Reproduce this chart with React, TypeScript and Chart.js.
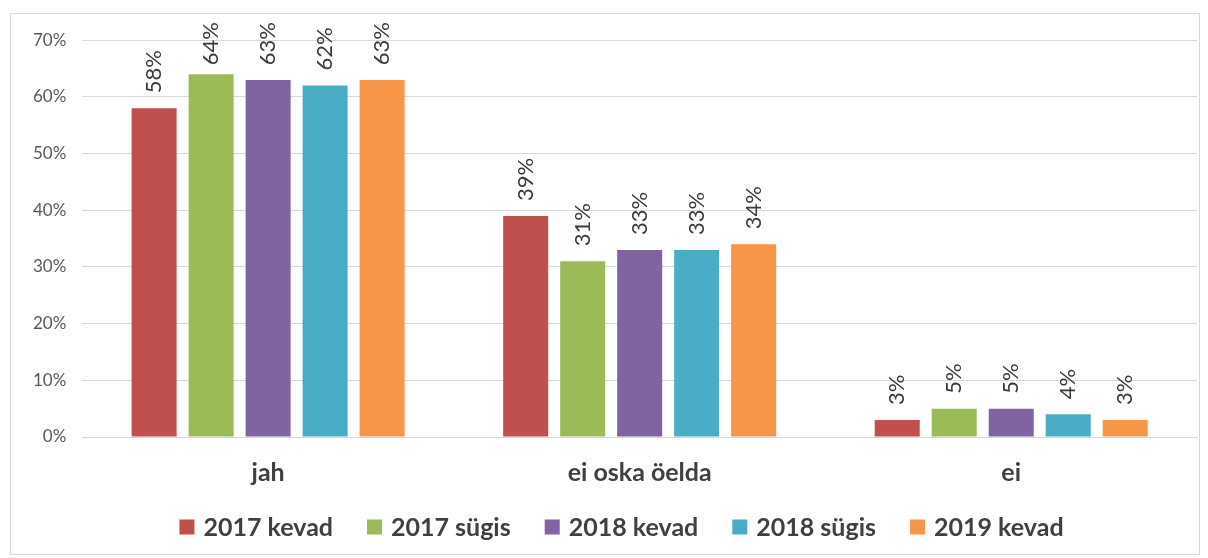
import React, { useEffect, useRef } from "react";
import { Chart, registerables } from "chart.js";

Chart.register(...registerables);

const categories = ["jah", "ei oska öelda", "ei"];
const seriesNames = ["2017 kevad", "2017 sügis", "2018 kevad", "2018 sügis", "2019 kevad"];
const s2017kevad = [58, 39, 3];
const s2017sugis = [64, 31, 5];
const s2018kevad = [63, 33, 5];
const s2018sugis = [62, 33, 4];
const s2019kevad = [63, 34, 3];
const seriesValues = [s2017kevad, s2017sugis, s2018kevad, s2018sugis, s2019kevad];
const colors = ["#C0504D", "#9BBB59", "#8064A2", "#4BACC6", "#F79646"];
const yTicks = [0, 10, 20, 30, 40, 50, 60, 70];

const FONT = "Lato, 'Liberation Sans', sans-serif";

const labelPlugin = {
  id: "rotLabels",
  afterDatasetsDraw(chart: any) {
    const ctx = chart.ctx;
    ctx.save();
    ctx.font = `22px ${FONT}`;
    chart.data.datasets.forEach((ds: any, i: number) => {
      const meta = chart.getDatasetMeta(i);
      meta.data.forEach((el: any, j: number) => {
        const txt = ds.data[j] + "%";
        const w = ctx.measureText(txt).width;
        let start = el.y - 15;
        const minTop = 8;
        if (start - w < minTop) start = minTop + w;
        ctx.save();
        ctx.translate(el.x, start);
        ctx.rotate(-Math.PI / 2);
        ctx.fillStyle = "#3A3A3A";
        ctx.textAlign = "left";
        ctx.textBaseline = "middle";
        ctx.fillText(txt, 0, 0);
        ctx.restore();
      });
    });
    ctx.restore();
  },
};

const legendPlugin = {
  id: "customLegend",
  afterDraw(chart: any) {
    const ctx = chart.ctx;
    const box = 15;
    const boxGap = 9;
    const itemGap = 34;
    const centerX = 610.5;
    const centerY = 513;
    ctx.save();
    ctx.font = `bold 25px ${FONT}`;
    const items = chart.data.datasets.map((ds: any) => ({
      label: ds.label,
      color: ds.backgroundColor,
      w: ctx.measureText(ds.label).width,
    }));
    const total =
      items.reduce((s: number, it: any) => s + box + boxGap + it.w, 0) +
      itemGap * (items.length - 1);
    let x = centerX - total / 2;
    ctx.textBaseline = "middle";
    ctx.textAlign = "left";
    items.forEach((it: any) => {
      ctx.fillStyle = it.color;
      ctx.fillRect(x, centerY - box / 2, box, box);
      x += box + boxGap;
      ctx.fillStyle = "#404040";
      ctx.fillText(it.label, x, centerY + 1);
      x += it.w + itemGap;
    });
    ctx.restore();
  },
};

export default function App() {
  const ref = useRef<HTMLCanvasElement>(null);
  useEffect(() => {
    if (!ref.current) return;
    const chart = new Chart(ref.current, {
      type: "bar",
      data: {
        labels: categories,
        datasets: seriesNames.map((n, i) => ({
          label: n,
          data: seriesValues[i],
          backgroundColor: colors[i],
          borderWidth: 0,
          barPercentage: 0.79,
          categoryPercentage: 0.767,
        })),
      },
      options: {
        animation: false,
        responsive: false,
        maintainAspectRatio: false,
        layout: { padding: { left: 6, right: 2, top: 12, bottom: 45 } },
        plugins: {
          legend: { display: false },
          tooltip: { enabled: false },
        },
        scales: {
          x: {
            grid: { display: false, drawTicks: false },
            border: { display: true, color: "#D9D9D9" },
            ticks: {
              color: "#404040",
              padding: 21,
              font: { family: FONT, size: 25, weight: "bold" },
            },
          },
          y: {
            min: 0,
            max: 70,
            afterBuildTicks: (axis: any) => {
              axis.ticks = yTicks.map((v) => ({ value: v }));
            },
            grid: { color: "#D9D9D9", drawTicks: false },
            border: { display: false },
            ticks: {
              color: "#595959",
              padding: 16,
              font: { family: FONT, size: 17 },
              callback: (v: any) => v + "%",
            },
          },
        },
      },
      plugins: [labelPlugin, legendPlugin],
    });
    return () => chart.destroy();
  }, []);
  return (
    <div
      style={{
        position: "absolute",
        left: 10,
        top: 13,
        width: 1190,
        height: 542,
        border: "1px solid #D9D9D9",
        boxSizing: "border-box",
        background: "#fff",
      }}
    >
      <canvas ref={ref} width={1188} height={540} style={{ display: "block" }} />
    </div>
  );
}
